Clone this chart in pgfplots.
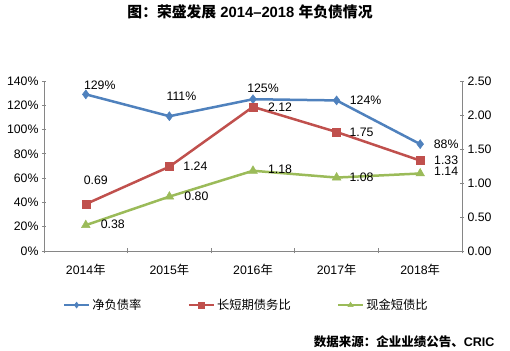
\documentclass[border=0pt]{standalone}
\usepackage{pgfplots}
\pgfplotsset{compat=1.18}
\usepackage{fontspec}
\setmainfont{Liberation Sans}
\newfontfamily\cjk{Noto Sans CJK SC}
\definecolor{cblue}{HTML}{4F81BD}
\definecolor{cred}{HTML}{C0504D}
\definecolor{cgreen}{HTML}{9BBB59}
\definecolor{caxis}{HTML}{868686}
\begin{document}
\begin{tikzpicture}
\useasboundingbox (0,0) rectangle (510bp,351bp);
\node[font=\fontsize{14.8bp}{16bp}\selectfont\bfseries] at (250bp,339bp) {{\cjk 图：荣盛发展} 2014--2018 {\cjk 年负债情况}};
\node[anchor=east,font=\fontsize{12.5bp}{14bp}\selectfont\bfseries] at (498bp,9bp) {{\cjk 数据来源：企业业绩公告、}CRIC};
\pgfplotsset{
  every axis/.append style={
    at={(44bp,100bp)}, anchor=south west,
    scale only axis, width=418bp, height=170bp,
    xmin=-0.5, xmax=4.5, clip=false,
    /pgf/number format/assume math mode=true,
    tick label style={font=\fontsize{12.3bp}{14bp}\selectfont, black},
    axis line style={caxis, line width=0.8bp},
    tick style={caxis, line width=0.8bp},
    tick align=outside,
    major tick length=4bp,
    nodes near coords style={font=\fontsize{12.3bp}{14bp}\selectfont, black, anchor=center},
  }
}
\begin{axis}[
  axis x line=bottom, axis y line=left,
  ymin=0, ymax=140, ytick={0,20,...,140},
  yticklabel={\pgfmathprintnumber{\tick}\%},
  xtick={0,1,2,3,4},
  xticklabels={2014{\cjk 年},2015{\cjk 年},2016{\cjk 年},2017{\cjk 年},2018{\cjk 年}},
  major x tick style={draw=none},
  minor xtick={-0.5,0.5,1.5,2.5,3.5,4.5},
  minor tick length=5bp,
  xticklabel style={yshift=-8bp},
  x axis line style={-}, y axis line style={-},
]
\addplot[cblue, line width=2.5bp, mark=diamond*, mark size=4.5bp,
  mark options={fill=cblue, draw=cblue, line width=0.5bp},
  visualization depends on={\thisrow{dx}\as\dx},
  visualization depends on={\thisrow{dy}\as\dy},
  nodes near coords={\pgfmathprintnumber[fixed,precision=0]{\pgfplotspointmeta}\%},
  nodes near coords style={xshift=\dx bp, yshift=\dy bp}]
table {
x y dx dy
0 129 14 9
1 111 12 20
2 125 10 11
3 124 29 0
4 88 26 0
};
\end{axis}
\begin{axis}[
  axis x line=none, axis y line=right,
  ymin=0, ymax=2.5, ytick={0,0.5,...,2.5},
  yticklabel style={/pgf/number format/.cd, fixed, fixed zerofill, precision=2},
  y axis line style={-},
  legend style={at={(0.484,-0.318)}, anchor=center, draw=none, fill=none,
    font=\fontsize{12.3bp}{14bp}\selectfont, legend columns=3,
    /tikz/every even column/.append style={column sep=44bp},
    inner sep=0pt},
  legend cell align=left,
  legend image code/.code={
    \draw[#1, mark=none] (0bp,0bp) -- (25bp,0bp);
    \draw[#1, only marks, mark size=3bp] plot coordinates {(12.5bp,0bp)};
  },
]
\addlegendimage{cblue, line width=2.5bp, mark=diamond*, mark options={fill=cblue, line width=0.5bp}}
\addlegendentry{\cjk 净负债率}
\addplot[cred, line width=2.5bp, mark=square*, mark size=4bp,
  mark options={fill=cred, draw=cred, line width=0.5bp},
  visualization depends on={\thisrow{dx}\as\dx},
  visualization depends on={\thisrow{dy}\as\dy},
  nodes near coords={\pgfmathprintnumber[fixed,fixed zerofill,precision=2]{\pgfplotspointmeta}},
  nodes near coords style={xshift=\dx bp, yshift=\dy bp}]
table {
x y dx dy
0 0.69 10 24
1 1.24 26 0
2 2.12 27 0
3 1.75 25 0
4 1.33 26 0
};
\addlegendentry{\cjk 长短期债务比}
\addplot[cgreen, line width=2.5bp, mark=triangle*, mark size=5bp,
  mark options={fill=cgreen, draw=cgreen, line width=0.5bp},
  visualization depends on={\thisrow{dx}\as\dx},
  visualization depends on={\thisrow{dy}\as\dy},
  nodes near coords={\pgfmathprintnumber[fixed,fixed zerofill,precision=2]{\pgfplotspointmeta}},
  nodes near coords style={xshift=\dx bp, yshift=\dy bp}]
table {
x y dx dy
0 0.38 27 1
1 0.80 27 0
2 1.18 27 1
3 1.08 25 0
4 1.14 26 2
};
\addlegendentry{\cjk 现金短债比}
\end{axis}
\end{tikzpicture}
\end{document}
